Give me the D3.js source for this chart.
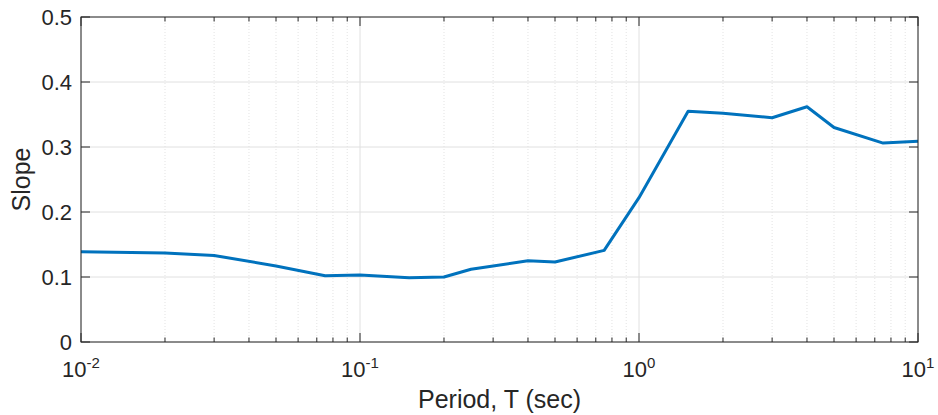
<!DOCTYPE html>
<html>
<head>
<meta charset="utf-8">
<script src="https://cdn.jsdelivr.net/npm/d3@7"></script>
<style>
  html, body { margin: 0; padding: 0; background: #fff; }
  svg { display: block; font-family: "Liberation Sans", Arial, Helvetica, sans-serif; }
</style>
</head>
<body>
<svg id="chart" width="938" height="415"></svg>
<script>
// Slope vs. spectral period
const periods = [0.01, 0.02, 0.03, 0.05, 0.075, 0.1, 0.15, 0.2, 0.25, 0.3, 0.4, 0.5, 0.75, 1.0, 1.5, 2, 3, 4, 5, 7.5, 10];
const slopes  = [0.139, 0.137, 0.133, 0.117, 0.102, 0.103, 0.099, 0.100, 0.112, 0.117, 0.125, 0.123, 0.141, 0.222, 0.355, 0.352, 0.345, 0.362, 0.330, 0.306, 0.309];
const yTicks = [0, 0.1, 0.2, 0.3, 0.4, 0.5];
const xDecades = [-2, -1, 0, 1];

const margin = { left: 81, right: 20, top: 17, bottom: 73 };
const W = 938, H = 415;
const svg = d3.select("#chart");

const x = d3.scaleLog().domain([0.01, 10]).range([margin.left, W - margin.right]);
const y = d3.scaleLinear().domain([0, 0.5]).range([H - margin.bottom, margin.top]);

const x0 = x.range()[0], x1 = x.range()[1];
const y0 = y.range()[0], y1 = y.range()[1];

// minor tick positions (2..9 within each decade)
const minor = [];
for (let d = -2; d < 1; d++) for (let m = 2; m <= 9; m++) minor.push(m * Math.pow(10, d));
const major = xDecades.map(e => Math.pow(10, e));

const grid = svg.append("g");
// minor x grid (dotted)
grid.selectAll("line.mx").data(minor).join("line")
  .attr("x1", d => x(d)).attr("x2", d => x(d))
  .attr("y1", y0).attr("y2", y1)
  .attr("stroke", "#dcdcdc").attr("stroke-width", 0.8).attr("stroke-dasharray", "1,2");
// major x grid
grid.selectAll("line.Mx").data(major).join("line")
  .attr("x1", d => x(d)).attr("x2", d => x(d))
  .attr("y1", y0).attr("y2", y1)
  .attr("stroke", "#e0e0e0").attr("stroke-width", 1);
// y grid
grid.selectAll("line.gy").data(yTicks).join("line")
  .attr("x1", x0).attr("x2", x1)
  .attr("y1", d => y(d)).attr("y2", d => y(d))
  .attr("stroke", "#e0e0e0").attr("stroke-width", 1);

// data line
svg.append("path")
  .datum(periods.map((p, i) => [p, slopes[i]]))
  .attr("fill", "none")
  .attr("stroke", "#0072BD")
  .attr("stroke-width", 3)
  .attr("stroke-linejoin", "round")
  .attr("d", d3.line().x(d => x(d[0])).y(d => y(d[1])));

// axes box
const axisColor = "#262626";
svg.append("rect")
  .attr("x", x0).attr("y", y1).attr("width", x1 - x0).attr("height", y0 - y1)
  .attr("fill", "none").attr("stroke", axisColor).attr("stroke-width", 1);

// inward ticks: x axis (bottom & top)
const ticks = svg.append("g").attr("stroke", axisColor).attr("stroke-width", 1);
[[y0, -1], [y1, 1]].forEach(([yy, dir]) => {
  ticks.selectAll(null).data(major).join("line")
    .attr("x1", d => x(d)).attr("x2", d => x(d))
    .attr("y1", yy).attr("y2", yy + dir * 9);
  ticks.selectAll(null).data(minor).join("line")
    .attr("x1", d => x(d)).attr("x2", d => x(d))
    .attr("y1", yy).attr("y2", yy + dir * 4.5);
});
// y ticks (left & right)
[[x0, 1], [x1, -1]].forEach(([xx, dir]) => {
  ticks.selectAll(null).data(yTicks).join("line")
    .attr("x1", xx).attr("x2", xx + dir * 9)
    .attr("y1", d => y(d)).attr("y2", d => y(d));
});

// y tick labels
svg.append("g").selectAll("text").data(yTicks).join("text")
  .attr("x", x0 - 9).attr("y", d => y(d))
  .attr("dy", "0.36em")
  .attr("text-anchor", "end")
  .attr("font-size", 22).attr("fill", axisColor)
  .text(d => d === 0 ? "0" : d3.format(".1f")(d));

// x tick labels: 10 with superscript exponent
const xl = svg.append("g").selectAll("text").data(xDecades).join("text")
  .attr("x", d => x(Math.pow(10, d)))
  .attr("y", y0 + 35)
  .attr("text-anchor", "middle")
  .attr("font-size", 22).attr("fill", axisColor);
xl.append("tspan").text("10");
xl.append("tspan").attr("dy", -9).attr("font-size", 15).text(d => d < 0 ? "-" + Math.abs(d) : String(d));

// axis titles
svg.append("text")
  .attr("x", (x0 + x1) / 2).attr("y", 408)
  .attr("text-anchor", "middle")
  .attr("font-size", 25).attr("fill", axisColor)
  .text("Period, T (sec)");
svg.append("text")
  .attr("transform", `translate(30,${(y0 + y1) / 2}) rotate(-90)`)
  .attr("text-anchor", "middle")
  .attr("font-size", 25).attr("fill", axisColor)
  .text("Slope");
</script>
</body>
</html>
